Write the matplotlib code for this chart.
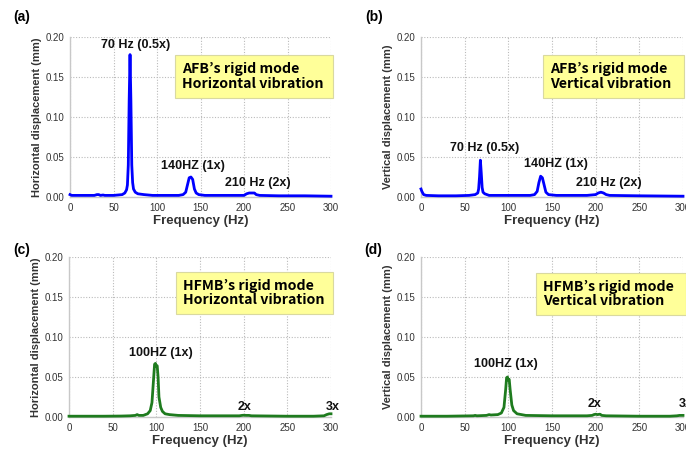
import matplotlib.pyplot as plt
from matplotlib.patches import Rectangle

# ==== Dane ====
freq_a = [0, 2, 10, 20, 28, 31, 33, 35, 38, 40, 50, 55, 60, 63, 65, 66, 67, 68, 69, 70, 71, 72, 73, 75, 78,
          85, 95, 110, 125, 130, 133, 135, 137, 139, 141, 143, 145, 148, 155, 180, 200, 203, 206, 209, 212,
          214, 218, 240, 270, 300]
disp_a = [0.003, 0.002, 0.002, 0.002, 0.002, 0.003, 0.003, 0.002, 0.0025, 0.002, 0.002, 0.0025, 0.003, 0.005,
          0.009, 0.015, 0.040, 0.120, 0.178, 0.120, 0.040, 0.018, 0.010, 0.006, 0.004, 0.003, 0.002, 0.002,
          0.002, 0.003, 0.006, 0.015, 0.024, 0.025, 0.022, 0.010, 0.005, 0.003, 0.002, 0.002, 0.002, 0.004,
          0.005, 0.005, 0.005, 0.003, 0.002, 0.0015, 0.0015, 0.001]

freq_b = [0, 1, 3, 6, 20, 40, 55, 62, 65, 66, 67, 68, 69, 70, 71, 73, 78, 100, 125, 130, 133, 135, 137, 139,
          141, 143, 146, 155, 190, 200, 203, 206, 209, 212, 216, 250, 300]
disp_b = [0.010, 0.007, 0.003, 0.002, 0.0015, 0.0015, 0.002, 0.003, 0.005, 0.010, 0.025, 0.046, 0.030, 0.012,
          0.006, 0.004, 0.002, 0.002, 0.002, 0.003, 0.007, 0.018, 0.026, 0.024, 0.015, 0.006, 0.003, 0.002,
          0.002, 0.003, 0.005, 0.006, 0.005, 0.003, 0.002, 0.0015, 0.001]

freq_c = [0, 20, 40, 60, 70, 76, 78, 80, 85, 90, 93, 95, 97, 98, 99, 100, 101, 102, 103, 105, 107, 110, 115,
          125, 150, 180, 195, 198, 200, 203, 206, 209, 250, 280, 292, 295, 298, 300]
disp_c = [0.001, 0.001, 0.001, 0.0012, 0.0015, 0.002, 0.003, 0.002, 0.002, 0.004, 0.008, 0.018, 0.050, 0.066,
          0.067, 0.063, 0.064, 0.050, 0.025, 0.012, 0.007, 0.004, 0.003, 0.002, 0.0015, 0.0015, 0.0015, 0.002,
          0.0022, 0.002, 0.002, 0.0015, 0.001, 0.001, 0.0015, 0.003, 0.004, 0.004]

freq_d = [0, 30, 60, 62, 64, 75, 78, 80, 88, 92, 95, 97, 98, 99, 100, 101, 102, 104, 106, 110, 120, 150, 190,
          196, 198, 200, 202, 205, 207, 212, 250, 285, 293, 296, 300]
disp_d = [0.001, 0.001, 0.0015, 0.002, 0.0015, 0.002, 0.003, 0.0025, 0.003, 0.005, 0.012, 0.035, 0.049, 0.050,
          0.046, 0.047, 0.035, 0.015, 0.008, 0.004, 0.002, 0.0015, 0.0015, 0.002, 0.003, 0.0035, 0.003, 0.0035,
          0.002, 0.0015, 0.001, 0.001, 0.0015, 0.002, 0.002]

panel_tags = ["(a)", "(b)", "(c)", "(d)"]
ylabels = ["Horizontal displacement (mm)", "Vertical displacement (mm)",
           "Horizontal displacement (mm)", "Vertical displacement (mm)"]
box_texts = ["AFB\u2019s rigid mode\nHorizontal vibration", "AFB\u2019s rigid mode\nVertical vibration",
             "HFMB\u2019s rigid mode\nHorizontal vibration", "HFMB\u2019s rigid mode\nVertical vibration"]
peak_labels = [
    [("70 Hz (0.5x)", 75, 0.190), ("140HZ (1x)", 141, 0.039), ("210 Hz (2x)", 216, 0.0175)],
    [("70 Hz (0.5x)", 73, 0.061), ("140HZ (1x)", 154, 0.041), ("210 Hz (2x)", 215, 0.0175)],
    [("100HZ (1x)", 105, 0.080), ("2x", 201, 0.013), ("3x", 302, 0.013)],
    [("100HZ (1x)", 97, 0.066), ("2x", 199, 0.0166), ("3x", 303, 0.0166)],
]

W, H = 686, 450
fig = plt.figure(figsize=(W / 100, H / 100), dpi=100)

# pozycje osi w pikselach: lewo, góra, prawo, dół
ax_px = [(70, 37, 331, 197), (421, 37, 683, 197), (69, 257, 331, 417), (421, 257, 683, 417)]
tag_px = [(13, 17), (365, 17), (13, 250), (364, 250)]
box_px = [(175, 55, 333, 98), (543, 55, 684, 98), (176, 272, 333, 314), (536, 273, 686, 315)]

series = [(freq_a, disp_a, "#0000ff"), (freq_b, disp_b, "#0000ff"),
          (freq_c, disp_c, "#1e7b1e"), (freq_d, disp_d, "#1e7b1e")]

font = "Liberation Sans"
for i in range(4):
    l, t, r, b = ax_px[i]
    ax = fig.add_axes([l / W, 1 - b / H, (r - l) / W, (b - t) / H])
    x, y, c = series[i]
    ax.plot(x, y, color=c, lw=2.0, solid_joinstyle="round", zorder=3, clip_on=False)
    ax.set_xlim(0, 300)
    ax.set_ylim(0, 0.2)
    ax.set_xticks(range(0, 301, 50))
    ax.set_yticks([0, 0.05, 0.10, 0.15, 0.20])
    ax.set_yticklabels(["0.00", "0.05", "0.10", "0.15", "0.20"])
    ax.tick_params(length=0, labelsize=7, labelcolor="#333333", pad=4)
    for lab in ax.get_xticklabels() + ax.get_yticklabels():
        lab.set_fontfamily(font)
    ax.grid(True, linestyle=(0, (1, 1.5)), color="#bbbbbb", lw=0.8)
    for s in ["top", "right"]:
        ax.spines[s].set_visible(False)
    for s in ["left", "bottom"]:
        ax.spines[s].set_color("#c8c8c8")
        ax.spines[s].set_linewidth(1.0)
    ax.set_xlabel("Frequency (Hz)", fontsize=9.5, fontweight="bold", family=font, color="#333333", labelpad=2)
    ax.set_ylabel(ylabels[i], fontsize=8, fontweight="bold", family=font, color="#333333", labelpad=3)
    for txt, px, py in peak_labels[i]:
        ax.text(px, py, txt, ha="center", va="center", fontsize=9, fontweight="bold",
                family=font, color="#111111", clip_on=False)

    tx, ty = tag_px[i]
    fig.text(tx / W, 1 - ty / H, panel_tags[i], ha="left", va="center", fontsize=10,
             fontweight="bold", family=font)

    bl, bt, br, bb = box_px[i]
    fig.patches.append(Rectangle((bl / W, 1 - bb / H), (br - bl) / W, (bb - bt) / H,
                                 transform=fig.transFigure, facecolor="#ffff99",
                                 edgecolor="#d9d9a0", lw=0.8, zorder=5))
    fig.text((bl + 7) / W, 1 - ((bt + bb) / 2) / H, box_texts[i], ha="left", va="center",
             fontsize=10.2, fontweight="bold", family=["Noto Sans CJK KR", "DejaVu Sans"],
             linespacing=1.05, zorder=6)

fig.savefig("out.png", dpi=100)
